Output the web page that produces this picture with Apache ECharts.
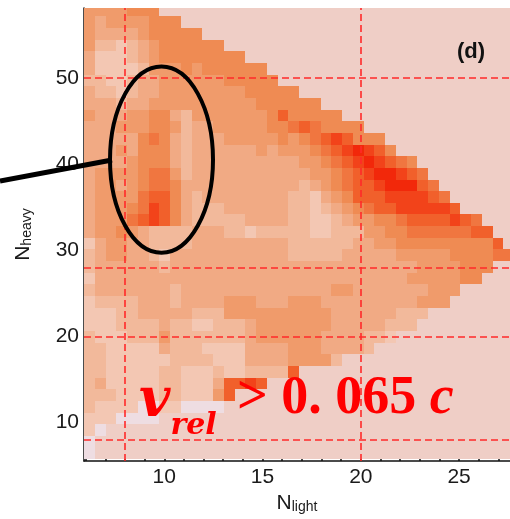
<!DOCTYPE html>
<html>
<head>
<meta charset="utf-8">
<script src="https://cdn.jsdelivr.net/npm/echarts@6/dist/echarts.min.js"></script>
<style>
  html, body { margin: 0; padding: 0; background: #ffffff; }
  #chart { width: 510px; height: 519px; }
</style>
</head>
<body>
<div id="chart"></div>
<script>
// 2D occupancy histogram: N_light (x) vs N_heavy (y)
// bin layout
const xBinStart = 5.917;
const xBinWidth = 0.547;
const yBinStart = 5.75;
const yBinWidth = 1.352;

// bin contents (colour level 0..11), one string per N_heavy row, top row first
const binRows = [
  "5555666000000000000000000000000000000000",
  "5455556660000000000000000000000000000000",
  "5444456666600000000000000000000000000000",
  "5332345666666000000000000000000000000000",
  "4222345666666660000000000000000000000000",
  "4222235556566666600000000000000000000000",
  "3322344555555666660000000000000000000000",
  "4332344555555556666600000000000000000000",
  "4443445555555555666666000000000000000000",
  "5444556643555555568666660000000000000000",
  "4445556653445555566787666600000000000000",
  "4444467643444555556567898666000000000000",
  "4445466643444444545556789a98600000000000",
  "44445666434444444444556789a9876000000000",
  "455556775344444444444556789aa98700000000",
  "4554567764444444444434567889aaa870000000",
  "4555578864344444444332456888999987000000",
  "4555679864333444444332345678899999800000",
  "4555789864333334444332234556678888987000",
  "4556543333444332333332233355667777778800",
  "2455443333444444444333333445566666666680",
  "3455443244444444444333334444455555666677",
  "3444444344444444444444444444444555566600",
  "2444444444444444444444444444445555566000",
  "3444444434444444444444455444444455500000",
  "2333344434444555444555444444444555000000",
  "2223344444333555555555544444433300000000",
  "2223333433223334555555544444333000000000",
  "3222333533333334555555444433200000000000",
  "3322222433322224444555444430000000000000",
  "3322222233332224444555530000000000000000",
  "3322222332223223333800000000000000000000",
  "3422222332224889800000000000000000000000",
  "3332222332225800000000000000000000000000",
  "3222211221111000000000000000000000000000",
  "2221111000000000000000000000000000000000",
  "2100000000000000000000000000000000000000",
  "1000000000000000000000000000000000000000",
  "1000000000000000000000000000000000000000"
];

// colour scale, lowest to highest level
const levelColors = [
  "#efcec6", "#eedde2", "#f3c7b3", "#f2b99b", "#f1aa84", "#f09b6b",
  "#ef8b53", "#f07640", "#f1602b", "#f2431a", "#f2280a", "#f21200"
];

// axis labelling
const xLabelValues = [10, 15, 20, 25];
const xMinorValues = [6, 7, 8, 9, 11, 12, 13, 14, 16, 17, 18, 19, 21, 22, 23, 24, 26, 27];
const yLabelValues = [10, 20, 30, 40, 50];
const yMinorValues = [6, 8, 12, 14, 16, 18, 22, 24, 26, 28, 32, 34, 36, 38, 42, 44, 46, 48, 52, 54, 56, 58];

// selection cuts drawn as dashed lines
const cutX = [8, 20];
const cutY = [50, 28, 20, 8];

const xMin = 5.917, xMax = 27.59;
const yMin = 5.52, yMax = 58.1;

const nRows = binRows.length;
const cells = [];
binRows.forEach((row, r) => {
  const j = nRows - 1 - r;
  for (let i = 0; i < row.length; i++) {
    const lvl = parseInt(row[i], 16);
    cells.push([xBinStart + i * xBinWidth, yBinStart + j * yBinWidth, lvl]);
  }
});

const chart = echarts.init(document.getElementById("chart"), null, { renderer: "canvas" });

const sans = "Liberation Sans, Arial, sans-serif";
const tickFont = { fontFamily: sans, fontSize: 21, color: "#1a1a1a" };
const axisNameRich = {
  n: { fontFamily: sans, fontSize: 21, color: "#1a1a1a", verticalAlign: "bottom" },
  s: { fontFamily: sans, fontSize: 14, color: "#1a1a1a", padding: [10, 0, 0, 0], verticalAlign: "bottom" }
};

const option = {
  animation: false,
  backgroundColor: "#ffffff",
  grid: { left: 84, right: 0, top: 8, bottom: 57, show: false },
  visualMap: {
    show: false,
    type: "piecewise",
    dimension: 2,
    seriesIndex: 0,
    pieces: levelColors.map((col, k) => ({ value: k, color: col }))
  },
  xAxis: [
    {
      type: "value", min: xMin, max: xMax, position: "bottom",
      axisLine: { show: true, onZero: false, lineStyle: { color: "#111", width: 1.5 } },
      axisTick: { show: true, inside: true, length: 14, customValues: xLabelValues, lineStyle: { color: "#111", width: 1.5 } },
      axisLabel: { show: true, customValues: xLabelValues, margin: 6, ...tickFont },
      splitLine: { show: false },
      name: "{n|N}{s|light}",
      nameLocation: "middle",
      nameGap: 28,
      nameTextStyle: { rich: axisNameRich }
    },
    {
      type: "value", min: xMin, max: xMax, position: "bottom",
      axisLine: { show: false },
      axisTick: { show: true, inside: true, length: 8, customValues: xMinorValues, lineStyle: { color: "#111", width: 1.5 } },
      axisLabel: { show: false },
      splitLine: { show: false }
    }
  ],
  yAxis: [
    {
      type: "value", min: yMin, max: yMax, position: "left",
      axisLine: { show: true, onZero: false, lineStyle: { color: "#111", width: 1.5 } },
      axisTick: { show: true, inside: true, length: 10, customValues: yLabelValues, lineStyle: { color: "#111", width: 1.5 } },
      axisLabel: { show: true, customValues: yLabelValues, margin: 5, ...tickFont },
      splitLine: { show: false },
      name: "{n|N}{s|heavy}",
      nameLocation: "middle",
      nameRotate: 90,
      nameGap: 50,
      nameTextStyle: { rich: axisNameRich }
    },
    {
      type: "value", min: yMin, max: yMax, position: "left",
      axisLine: { show: false },
      axisTick: { show: true, inside: true, length: 6, customValues: yMinorValues, lineStyle: { color: "#111", width: 1.5 } },
      axisLabel: { show: false },
      splitLine: { show: false }
    }
  ],
  series: [
    {
      type: "custom",
      xAxisIndex: 0,
      yAxisIndex: 0,
      clip: true,
      data: cells,
      encode: { x: 0, y: 1 },
      renderItem: function (params, api) {
        const x0 = api.value(0), y0 = api.value(1);
        const tl = api.coord([x0, y0 + yBinWidth]);
        const br = api.coord([x0 + xBinWidth, y0]);
        // snap to whole pixels so neighbouring bins meet without seams
        const left = Math.round(tl[0]), top = Math.round(tl[1]);
        const right = Math.round(br[0]), bottom = Math.round(br[1]);
        return {
          type: "rect",
          shape: { x: left, y: top, width: right - left, height: bottom - top },
          style: { fill: api.visual("color") }
        };
      },
      markLine: {
        silent: true,
        symbol: "none",
        label: { show: false },
        lineStyle: { color: "#ff2a2a", width: 1.6, type: [7, 4] },
        data: cutX.map(v => ({ xAxis: v })).concat(cutY.map(v => ({ yAxis: v })))
      },
      z: 1
    }
  ]
};

chart.setOption(option);

// annotation: ellipse round the light-side cluster and its pointer line
const ellipseCenter = [9.86, 40.5];
const ellipseRadius = [2.62, 10.8];
const c = chart.convertToPixel({ xAxisIndex: 0, yAxisIndex: 0 }, ellipseCenter);
const edge = chart.convertToPixel({ xAxisIndex: 0, yAxisIndex: 0 },
  [ellipseCenter[0] + ellipseRadius[0], ellipseCenter[1] + ellipseRadius[1]]);
const rx = edge[0] - c[0], ry = c[1] - edge[1];

const red = "#ff0000";
chart.setOption({
  graphic: [
    {
      type: "ellipse", z: 100,
      shape: { cx: c[0], cy: c[1], rx: rx, ry: ry },
      style: { fill: null, stroke: "#000", lineWidth: 4 }
    },
    {
      type: "line", z: 100,
      shape: { x1: 0, y1: 181, x2: c[0] - rx + 2, y2: 160 },
      style: { stroke: "#000", lineWidth: 5 }
    },
    {
      type: "text", z: 100, left: 457, top: 41,
      style: { text: "(d)", font: "bold 22px Liberation Sans, Arial, sans-serif", fill: "#111" }
    },
    {
      type: "text", z: 100, left: 139, top: 375,
      style: {
        text: "{v|v}{s|rel}",
        rich: {
          v: { font: "bold italic 54px DejaVu Serif, serif", fill: red, verticalAlign: "bottom" },
          s: { font: "bold italic 30px DejaVu Serif, serif", fill: red, padding: [0, 0, -12, 0], verticalAlign: "bottom" }
        }
      }
    },
    {
      type: "text", z: 100, left: 237, top: 372,
      style: {
        text: "{g|> 0. 065 }{c|c}",
        rich: {
          g: { font: "bold 54px Liberation Serif, serif", fill: red, verticalAlign: "bottom" },
          c: { font: "bold italic 54px Liberation Serif, serif", fill: red, verticalAlign: "bottom" }
        }
      }
    }
  ]
});
</script>
</body>
</html>
